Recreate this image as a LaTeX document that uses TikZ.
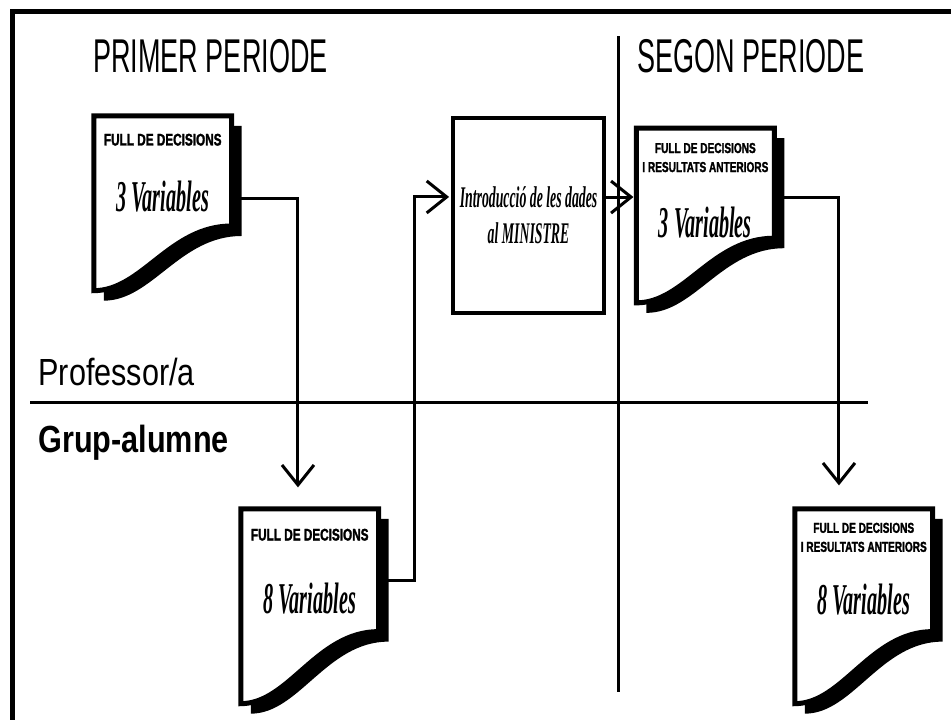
\documentclass[tikz,border=0pt]{standalone}
\usepackage{fontspec}
\usetikzlibrary{arrows.meta,positioning,calc}

\newfontfamily\headfont[FakeStretch=0.57]{Liberation Sans}
\newfontfamily\sidefont[FakeStretch=0.81]{Liberation Sans}
\newfontfamily\titlefont[FakeStretch=0.7,FakeBold=1.6]{Liberation Sans}
\newfontfamily\handfont[FakeStretch=0.46]{Liberation Serif}

\tikzstyle{sheet} = [rectangle, minimum width=68.5pt, inner sep=0pt]
\tikzstyle{sheettitle} = [inner sep=0pt, align=center,
                      font=\titlefont\bfseries\fontsize{8.4}{9.5}\selectfont]
\tikzstyle{smalltitle} = [inner sep=0pt, align=center,
                      font=\titlefont\bfseries\fontsize{7.2}{9.5}\selectfont]
\tikzstyle{variables} = [inner sep=0pt,
                      font=\handfont\bfseries\itshape\fontsize{22}{22}\selectfont]
\tikzstyle{process} = [rectangle, minimum width=71.5pt, minimum height=97.5pt,
                      draw=black, line width=2pt, align=center,
                      font=\handfont\bfseries\itshape\fontsize{15}{18}\selectfont]
\tikzstyle{heading} = [inner sep=0pt, anchor=base west,
                      font=\headfont\fontsize{23.7}{24}\selectfont]
\tikzstyle{side} = [inner sep=0pt, anchor=base west,
                      font=\sidefont\fontsize{18.9}{19}\selectfont]
\tikzstyle{flow} = [line width=1.5pt, -{Straight Barb[length=10pt,width=16pt]}]
\tikzstyle{divider} = [line width=1.5pt]

% sheet with curled bottom and drop shadow
\newcommand{\drawsheet}[1]{
  \coordinate (#1r) at ($(#1.south east)!0.37!(#1.north east)$);
  \coordinate (#1p) at ($(#1.south west)!0.55!(#1.south east)$);
  \coordinate (#1q) at ($(#1.south west)!0.35!(#1.south east)$);
  \fill[transform canvas={xshift=5pt,yshift=-5pt}] (#1.north west) -- (#1.north east)
    -- (#1r) .. controls (#1p |- #1r) and (#1q) .. (#1.south west) -- cycle;
  \filldraw[fill=white, line width=2.5pt] (#1.north west) -- (#1.north east)
    -- (#1r) .. controls (#1p |- #1r) and (#1q) .. (#1.south west) -- cycle;
}

\begin{document}
\begin{tikzpicture}[x=0.5pt, y=-0.5pt, node distance=88.4pt]
  \useasboundingbox (0,0) rectangle (951,720);

  \draw[line width=2.5pt] (951,11.5) -- (12,11.5) -- (12,720);

  \node (primer) [heading] at (93,72) {PRIMER PERIODE};
  \node (segon) [heading] at (637,72) {SEGON PERIODE};
  \node (professor) [side] at (38,385) {Professor/a};
  \node (grup) [side, font=\sidefont\bfseries\fontsize{18.9}{19}\selectfont] at (38,452) {Grup-alumne};

  \draw[divider] (618,36) -- (618,692);
  \draw[divider] (30,402) -- (868,402);

  \node (doc1) [sheet, minimum height=87pt] at (162.75,203.25) {};

  \node (intro) [process, right of=doc1, xshift=94.5pt, yshift=-6.1pt] {
    Introducció de les dades\\
    al MINISTRE
  };

  \node (doc3) [sheet, minimum height=87pt, right of=intro] {};

  \node (doc2) [sheet, minimum height=97pt, below of=doc1, xshift=73.5pt, yshift=-113.1pt] {};

  \node (doc4) [sheet, minimum height=97pt, right of=doc2, xshift=188.6pt] {};

  \drawsheet{doc1}
  \drawsheet{doc2}
  \drawsheet{doc3}
  \drawsheet{doc4}

  \node (doc1-title) [sheettitle, below=8.75pt of doc1.north] {FULL DE DECISIONS};
  \node (doc1-var) [variables, below=17.5pt of doc1-title] {3 Variables};

  \node (doc2-title) [sheettitle, below=9.75pt of doc2.north] {FULL DE DECISIONS};
  \node (doc2-var) [variables, below=21pt of doc2-title] {8 Variables};

  \node (doc3-title) [smalltitle, below=7.25pt of doc3.north] {
    FULL DE DECISIONS\\
    I RESULTATS ANTERIORS
  };
  \node (doc3-var) [variables, below=17pt of doc3-title] {3 Variables};

  \node (doc4-title) [smalltitle, below=6.75pt of doc4.north] {
    FULL DE DECISIONS\\
    I RESULTATS ANTERIORS
  };
  \node (doc4-var) [variables, below=15.5pt of doc4-title] {8 Variables};

  \draw[flow, shorten >=10.75pt] ([yshift=2.6pt]doc1.east) -| ([xshift=-5.9pt]doc2.north);
  \draw[flow, shorten >=1pt] ([yshift=13pt]doc2.east) -| ([xshift=-18.5pt,yshift=9.25pt]intro.west)
    -- ([yshift=9.25pt]intro.west);
  \draw[flow, shorten >=1.5pt] ([yshift=9.2pt]intro.east) -- ([yshift=9.2pt]doc3.west);
  \draw[flow, shorten >=11.75pt] ([yshift=9.1pt]doc3.east) -| ([xshift=-12.4pt]doc4.north);

\end{tikzpicture}
\end{document}
